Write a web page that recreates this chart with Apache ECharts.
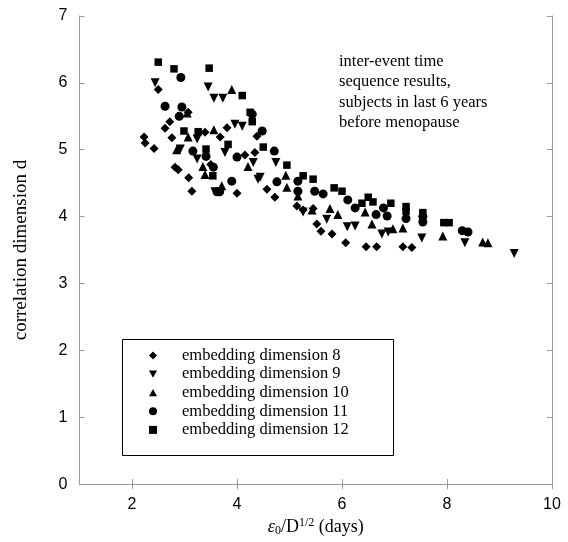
<!DOCTYPE html>
<html><head><meta charset="utf-8">
<script src="https://cdn.jsdelivr.net/npm/echarts@6/dist/echarts.min.js"></script>
<style>html,body{margin:0;padding:0;background:#fff}#c{width:568px;height:542px}</style>
</head><body><div id="c"></div>
<script>
const xTicks = [2, 4, 6, 8, 10];
const yTicks = [0, 1, 2, 3, 4, 5, 6, 7];
const seriesNames = ['embedding dimension 8','embedding dimension 9','embedding dimension 10','embedding dimension 11','embedding dimension 12'];
const dim8 = [[2.23,5.19],[2.25,5.10],[2.42,5.02],[2.50,5.90],[2.63,5.32],[2.72,5.42],[2.76,5.18],[2.82,4.74],[2.88,4.70],[3.07,5.56],[3.08,4.58],[3.14,4.38],[3.39,5.26],[3.50,4.78],[3.68,5.19],[3.81,5.33],[4.00,4.35],[4.15,4.92],[4.34,4.96],[4.38,5.20],[4.57,4.41],[4.72,4.29],[5.14,4.16],[5.26,4.10],[5.45,4.12],[5.52,3.89],[5.60,3.78],[5.81,3.74],[6.07,3.61],[6.46,3.55],[6.66,3.55],[7.16,3.55],[7.33,3.54]];
const dim9 = [[2.44,6.00],[2.92,5.01],[3.24,5.16],[3.24,4.86],[3.45,5.94],[3.56,5.77],[3.58,4.37],[3.73,5.77],[3.77,4.96],[3.96,5.38],[4.10,5.35],[4.31,4.81],[4.40,4.56],[4.44,4.59],[4.74,4.81],[5.26,4.07],[5.71,3.96],[6.10,3.85],[6.25,3.86],[6.76,3.74],[6.88,3.77],[7.52,3.68],[8.34,3.61],[9.28,3.45]];
const dim10 = [[2.85,5.00],[3.05,5.55],[3.07,5.19],[3.35,4.75],[3.39,4.63],[3.56,5.30],[3.71,4.46],[3.90,5.90],[4.21,4.75],[4.93,4.62],[4.95,4.44],[5.16,4.31],[5.43,4.10],[5.77,4.12],[5.92,4.03],[6.44,4.07],[6.57,3.89],[6.97,3.82],[7.16,3.83],[7.92,3.71],[8.68,3.62],[8.78,3.61]];
const dim11 = [[2.63,5.65],[2.90,5.50],[2.93,6.08],[2.95,5.64],[3.16,4.98],[3.41,4.90],[3.55,4.74],[3.62,4.37],[3.67,4.37],[3.90,4.53],[4.00,4.89],[4.29,5.53],[4.48,5.28],[4.71,4.98],[4.76,4.52],[5.16,4.53],[5.16,4.38],[5.48,4.38],[5.64,4.34],[6.11,4.25],[6.25,4.13],[6.65,4.03],[6.79,4.13],[6.86,4.01],[7.22,3.97],[7.54,4.00],[7.54,3.92],[8.29,3.79],[8.40,3.77]];
const dim12 = [[2.50,6.31],[2.80,6.21],[2.99,5.28],[3.26,5.27],[3.41,5.01],[3.47,6.22],[3.54,4.61],[3.83,5.08],[4.10,5.81],[4.25,5.56],[4.29,5.42],[4.50,5.04],[4.95,4.77],[5.26,4.61],[5.45,4.56],[5.85,4.43],[6.00,4.38],[6.38,4.20],[6.50,4.29],[6.59,4.22],[6.93,4.20],[7.22,4.15],[7.22,4.08],[7.54,4.06],[7.94,3.91],[8.04,3.91]];
const annotation = ['inter-event time','sequence results,','subjects in last 6 years','before menopause'];

const chart = echarts.init(document.getElementById('c'));
const axisColor = '#9a9a9a';
const serif = 'Liberation Serif';
const sans = 'Liberation Sans';
const downTri = 'path://M0,0 L10,0 L5,9 Z';
const upTri = 'path://M5,0 L10,9 L0,9 Z';
const mk = (name, data, symbol, size) => ({
  name, type: 'scatter', data, symbol, symbolSize: size,
  itemStyle: {color: '#000', opacity: 1}, z: 5
});
chart.setOption({
  animation: false,
  grid: {left: 79.5, right: 16, top: 16, bottom: 55, show: false},
  xAxis: [
    {type: 'value', min: 1, max: 10, interval: 1, position: 'bottom',
     axisLine: {show: true, lineStyle: {color: axisColor}},
     axisTick: {show: true, inside: true, length: 5, lineStyle: {color: axisColor}, customValues: xTicks},
     axisLabel: {color: '#000', fontFamily: sans, fontSize: 16, margin: 12, customValues: xTicks},
     splitLine: {show: false},
     name: '{e|ε}{sub|0}{n|/D}{sup|1/2}{n| (days)}', nameLocation: 'middle', nameGap: 27,
     nameTextStyle: {rich: {
       e: {fontFamily: serif, fontSize: 18, fontStyle: 'italic', color: '#000'},
       n: {fontFamily: serif, fontSize: 18, color: '#000'},
       sub: {fontFamily: serif, fontSize: 12, color: '#000', verticalAlign: 'bottom', padding: [8,0,0,0]},
       sup: {fontFamily: serif, fontSize: 12, color: '#000', verticalAlign: 'top', padding: [0,0,8,0]}
     }}},
    {type: 'value', min: 1, max: 10, interval: 1, position: 'top',
     axisLine: {show: true, lineStyle: {color: axisColor}},
     axisTick: {show: true, inside: true, length: 5, lineStyle: {color: axisColor}, customValues: xTicks},
     axisLabel: {show: false}, splitLine: {show: false}}
  ],
  yAxis: [
    {type: 'value', min: 0, max: 7, interval: 1, position: 'left',
     axisLine: {show: true, lineStyle: {color: axisColor}},
     axisTick: {show: true, inside: true, length: 5, lineStyle: {color: axisColor}},
     axisLabel: {color: '#000', fontFamily: sans, fontSize: 16, margin: 12},
     splitLine: {show: false},
     name: 'correlation dimension d', nameLocation: 'middle', nameGap: 49,
     nameTextStyle: {fontFamily: serif, fontSize: 19, color: '#000'}},
    {type: 'value', min: 0, max: 7, interval: 1, position: 'right',
     axisLine: {show: true, lineStyle: {color: axisColor}},
     axisTick: {show: true, inside: true, length: 5, lineStyle: {color: axisColor}},
     axisLabel: {show: false}, splitLine: {show: false}}
  ],
  legend: {
    orient: 'vertical', left: 149, top: 347, itemWidth: 8, itemHeight: 8, itemGap: 1.6,
    padding: 0, itemStyle: {opacity: 1},
    data: [
      {name: seriesNames[0], icon: 'diamond'},
      {name: seriesNames[1], icon: downTri},
      {name: seriesNames[2], icon: upTri},
      {name: seriesNames[3], icon: 'circle'},
      {name: seriesNames[4], icon: 'rect'}
    ],
    textStyle: {fontFamily: serif, fontSize: 16.5, lineHeight: 16, color: '#000', padding: [0,0,0,20]}
  },
  graphic: [
    {type: 'rect', shape: {x: 122.5, y: 339.5, width: 271, height: 116},
     style: {fill: 'none', stroke: '#000', lineWidth: 1}, z: 1, silent: true},
    {type: 'text', left: 339, top: 51,
     style: {text: annotation.join('\n'), font: '16.5px "Liberation Serif"', lineHeight: 20.5, fill: '#000'}}
  ],
  series: [
    mk(seriesNames[0], dim8, 'diamond', 9),
    mk(seriesNames[1], dim9, downTri, 9),
    mk(seriesNames[2], dim10, upTri, 9),
    mk(seriesNames[3], dim11, 'circle', 9),
    mk(seriesNames[4], dim12, 'rect', 7.5)
  ]
});
</script></body></html>
